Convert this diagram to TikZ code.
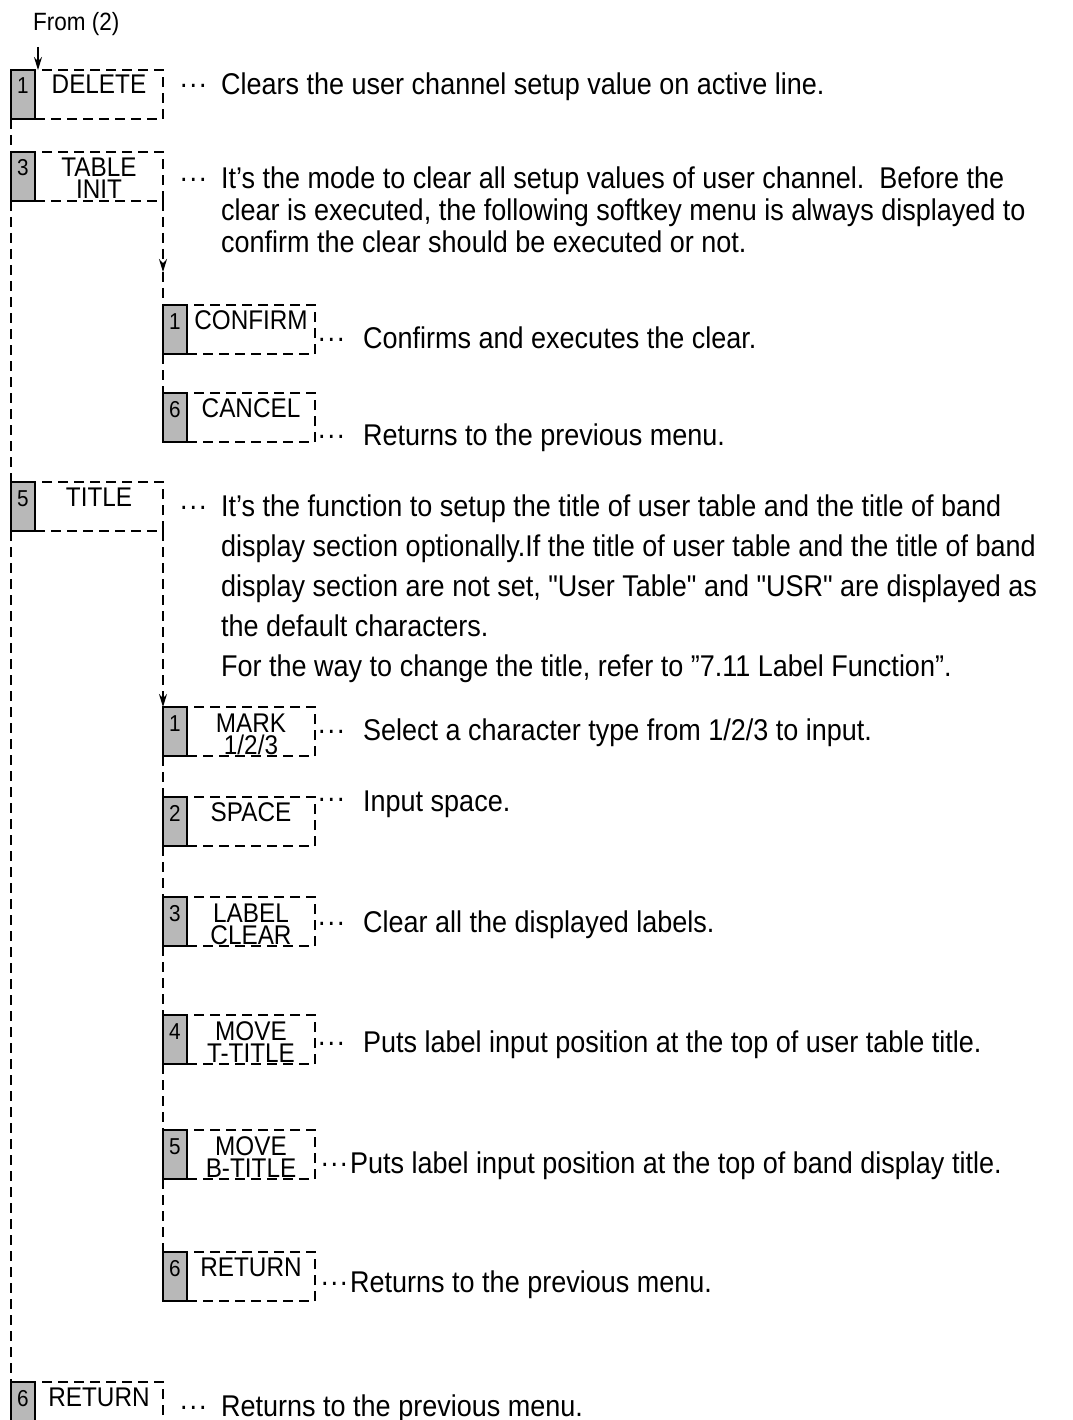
\documentclass[tikz,border=0pt]{standalone}
\usepackage{fontspec}
\setmainfont{Liberation Sans}[FakeStretch=0.9]
\newfontfamily\plainquote{Liberation Sans}[FakeStretch=0.9]
\usetikzlibrary{arrows.meta}
\pgfdeclarelayer{edgelayer}
\pgfdeclarelayer{nodelayer}
\pgfsetlayers{edgelayer,nodelayer,main}
\tikzstyle{keynum}=[draw=black, line width=1.6pt, fill=black!28, minimum width=24, text height=24, text depth=25, inner sep=0pt, outer sep=0pt, anchor=north west, font=\fontsize{23}{23}\selectfont]
\tikzstyle{softkey}=[draw=black, line width=1.6pt, dash pattern=on 10pt off 6pt, minimum width=128, text height=24, text depth=25, inner sep=0pt, outer sep=0pt, anchor=north west, align=center, font=\fontsize{27}{22}\selectfont]
\tikzstyle{softkey2}=[style=softkey, text height=47, text depth=2]
\tikzstyle{leader}=[anchor=base west, inner sep=0pt, font=\fontsize{30}{32}\selectfont]
\tikzstyle{desc}=[anchor=base west, inner sep=0pt, align=left, font=\fontsize{30}{32}\selectfont]
\tikzstyle{connector}=[draw=black, line width=1.6pt, dash pattern=on 10pt off 6pt]
\tikzstyle{linkarrow}=[-{Stealth[length=13pt,width=8pt]}]

\begin{document}
\begin{tikzpicture}[x=1pt, y=-1pt]
	\useasboundingbox (0,0) rectangle (1072,1420);
	\begin{pgfonlayer}{nodelayer}
		\node [anchor=base west, inner sep=0pt, font=\fontsize{25}{25}\selectfont] (0) at (33,31) {From (2)};
		% main menu
		\node [style=keynum] (1) at (11,70) {1};
		\node [style=softkey] (2) at (1.north east) {DELETE};
		\node [style=leader] (3) at (180,95) {\raisebox{7pt}{.\kern2pt.\kern2pt.}};
		\node [style=desc] (4) at (221,95) {Clears the user channel setup value on active line.};
		\node [style=keynum] (5) at (11,152) {3};
		\node [style=softkey2] (6) at (5.north east) {TABLE\\INIT};
		\node [style=leader] (7) at (180,189) {\raisebox{7pt}{.\kern2pt.\kern2pt.}};
		% last line baseline, the node sits on it
		\node [style=desc] (8) at (221,253) {It’s the mode to clear all setup values of user channel.\ \ Before the\\clear is executed, the following softkey menu is always displayed to\\confirm the clear should be executed or not.};
		% table init submenu
		\node [style=keynum] (9) at (163,305) {1};
		\node [style=softkey] (10) at (9.north east) {CONFIRM};
		\node [style=leader] (11) at (318,348) {\raisebox{7pt}{.\kern2pt.\kern2pt.}};
		\node [style=desc] (12) at (363,348) {Confirms and executes the clear.};
		\node [style=keynum] (13) at (163,393) {6};
		\node [style=softkey] (14) at (13.north east) {CANCEL};
		\node [style=leader] (15) at (318,445) {\raisebox{7pt}{.\kern2pt.\kern2pt.}};
		\node [style=desc] (16) at (363,445) {Returns to the previous menu.};
		% title
		\node [style=keynum] (17) at (11,482) {5};
		\node [style=softkey] (18) at (17.north east) {TITLE};
		\node [style=leader] (19) at (180,516) {\raisebox{7pt}{.\kern2pt.\kern2pt.}};
		\node [style=desc, font=\fontsize{30}{40}\selectfont] (20) at (221,676) {It’s the function to setup the title of user table and the title of band\\display section optionally.If the title of user table and the title of band\\display section are not set, {\plainquote"}User Table{\plainquote"} and {\plainquote"}USR{\plainquote"} are displayed as\\the default characters.\\For the way to change the title, refer to ”7.11 Label Function”.};
		% title submenu
		\node [style=keynum] (21) at (163,707) {1};
		\node [style=softkey2] (22) at (21.north east) {MARK\\1/2/3};
		\node [style=leader] (23) at (318,740) {\raisebox{7pt}{.\kern2pt.\kern2pt.}};
		\node [style=desc] (24) at (363,740) {Select a character type from 1/2/3 to input.};
		\node [style=keynum] (25) at (163,797) {2};
		\node [style=softkey] (26) at (25.north east) {SPACE};
		\node [style=leader] (27) at (318,808) {\raisebox{7pt}{.\kern2pt.\kern2pt.}};
		\node [style=desc] (28) at (363,811) {Input space.};
		\node [style=keynum] (29) at (163,897) {3};
		\node [style=softkey2] (30) at (29.north east) {LABEL\\CLEAR};
		\node [style=leader] (31) at (318,932) {\raisebox{7pt}{.\kern2pt.\kern2pt.}};
		\node [style=desc] (32) at (363,932) {Clear all the displayed labels.};
		\node [style=keynum] (33) at (163,1015) {4};
		\node [style=softkey2] (34) at (33.north east) {MOVE\\T-TITLE};
		\node [style=leader] (35) at (318,1052) {\raisebox{7pt}{.\kern2pt.\kern2pt.}};
		\node [style=desc] (36) at (363,1052) {Puts label input position at the top of user table title.};
		\node [style=keynum] (37) at (163,1130) {5};
		\node [style=softkey2] (38) at (37.north east) {MOVE\\B-TITLE};
		\node [style=leader] (39) at (321,1173) {\raisebox{7pt}{.\kern2pt.\kern2pt.}};
		\node [style=desc] (40) at (350,1173) {Puts label input position at the top of band display title.};
		\node [style=keynum] (41) at (163,1252) {6};
		\node [style=softkey] (42) at (41.north east) {RETURN};
		\node [style=leader] (43) at (321,1292) {\raisebox{7pt}{.\kern2pt.\kern2pt.}};
		\node [style=desc] (44) at (350,1292) {Returns to the previous menu.};
		% back in main menu
		\node [style=keynum] (45) at (11,1382) {6};
		\node [style=softkey] (46) at (45.north east) {RETURN};
		\node [style=leader] (47) at (180,1416) {\raisebox{7pt}{.\kern2pt.\kern2pt.}};
		\node [style=desc] (48) at (221,1416) {Returns to the previous menu.};
	\end{pgfonlayer}
	\begin{pgfonlayer}{edgelayer}
		\coordinate (49) at (38,47);
		\coordinate (50) at (163,272);
		\draw [line width=1.6pt, style=linkarrow] (49) -- (49 |- 2.north);
		\draw [style=connector] (1.south west) -- (5.north west);
		\draw [style=connector] (5.south west) -- (17.north west);
		\draw [style=connector] (17.south west) -- (45.north west);
		\draw [style=connector, style=linkarrow] (6.south east) -- (50);
		\draw [style=connector] (50) -- (9.north west);
		\draw [style=connector] (9.south west) -- (13.north west);
		\draw [style=connector, style=linkarrow] (18.south east) -- (21.north west);
		\draw [style=connector] (21.south west) -- (25.north west);
		\draw [style=connector] (25.south west) -- (29.north west);
		\draw [style=connector] (29.south west) -- (33.north west);
		\draw [style=connector] (33.south west) -- (37.north west);
		\draw [style=connector] (37.south west) -- (41.north west);
	\end{pgfonlayer}
\end{tikzpicture}
\end{document}
